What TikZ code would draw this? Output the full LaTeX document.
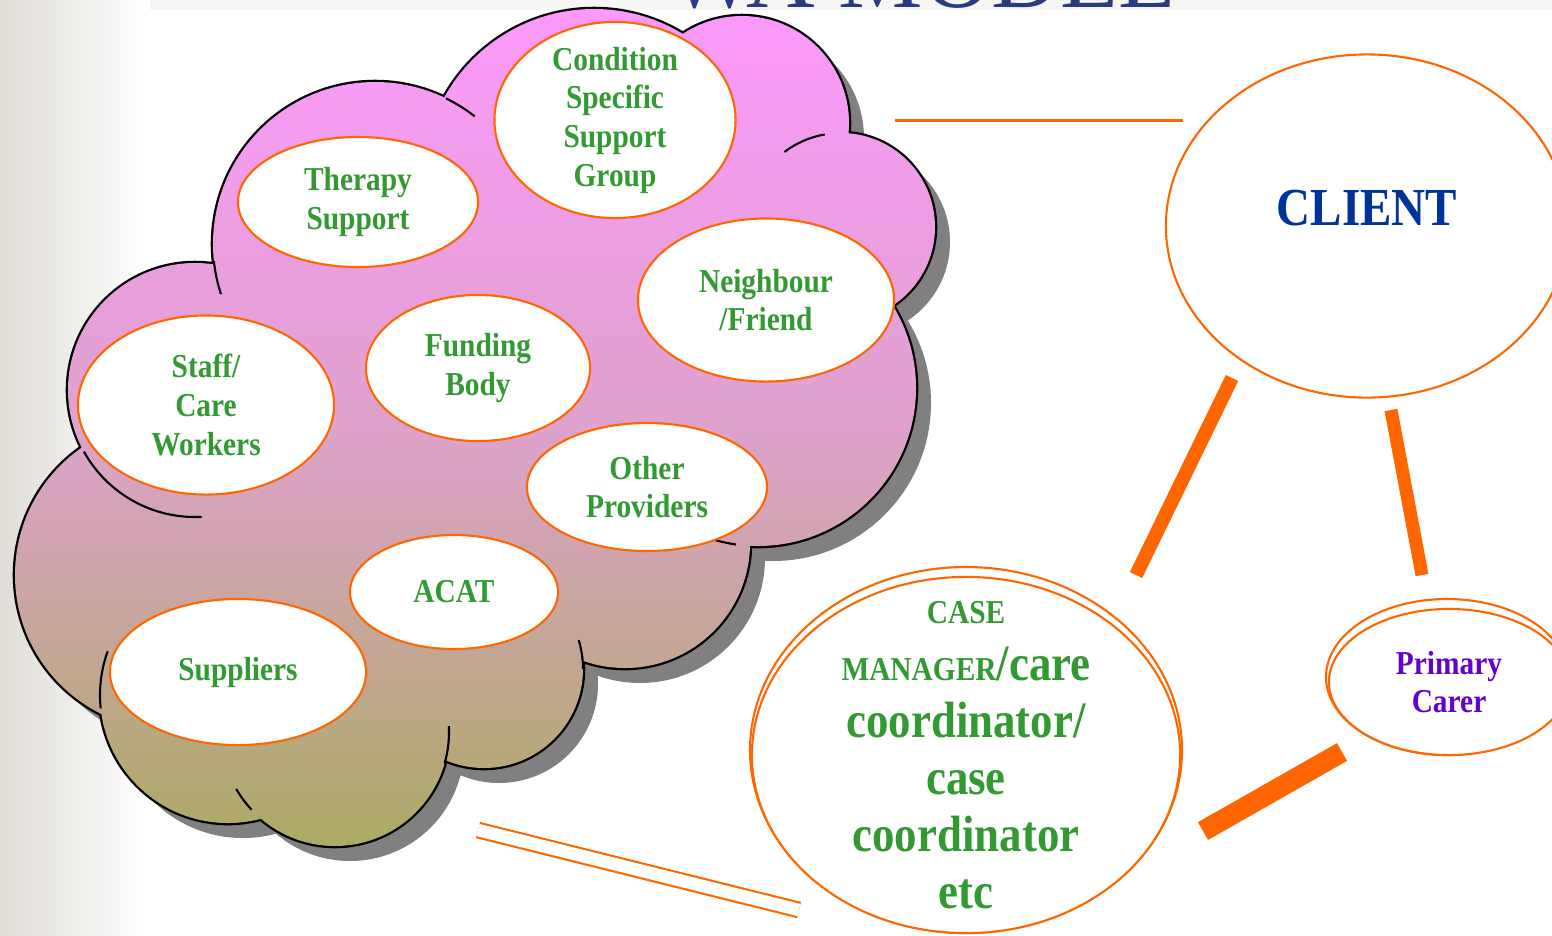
\documentclass[tikz,border=0pt]{standalone}
\usepackage{fontspec}
\setmainfont{Liberation Serif}
\newfontfamily\narrowserif{Liberation Serif}[FakeStretch=0.88]
\usetikzlibrary{shapes.geometric}

\definecolor{linkorange}{HTML}{FF6600}
\definecolor{labelgreen}{HTML}{339933}
\definecolor{clientblue}{HTML}{003399}
\definecolor{carerpurple}{HTML}{6600CC}
\definecolor{titleblue}{HTML}{2B3C7E}
\definecolor{slidegrey}{RGB}{224,221,215}
\definecolor{bandgrey}{RGB}{246,246,244}
\definecolor{cloudtop}{RGB}{252,153,252}
\definecolor{cloudmid}{RGB}{222,162,204}
\definecolor{cloudbottom}{RGB}{172,170,100}

\tikzset{
	bubble/.style = {ellipse, draw = linkorange, fill = white, line width = 0.6pt, inner sep = 0pt},
	bubbletext/.style = {align = center, text = labelgreen, inner sep = 0pt, font = \narrowserif\bfseries\fontsize{9.5}{11}\selectfont},
	casetext/.style = {align = center, text = labelgreen, inner sep = 0pt, font = \narrowserif\bfseries\fontsize{14.5}{16.2}\selectfont},
	carertext/.style = {bubbletext, text = carerpurple},
	clienttext/.style = {text = clientblue, inner sep = 0pt, font = \narrowserif\bfseries\fontsize{15.2}{18}\selectfont},
	link/.style = {draw = linkorange},
	cloudtick/.style = {line width = 0.6pt}
}

% centre x / centre y / radius of the cloud bumps (pixels, y downwards)
\newcommand{\cloudbumps}{375/244/162, 594/180/171, 742/123/107, 841/227/94, 758/388/158, 625/543/125, 484/669/99, 335/732/114, 228/695/128, 170/575/155, 195/390/127}
\newcommand{\smallcaps}[1]{{\fontsize{9.5}{11}\selectfont #1}}

\begin{document}
\begin{tikzpicture}[x = 0.01cm, y = 0.01cm]

	\useasboundingbox (0, 0) rectangle (1552, -935);
	\clip (0, 0) rectangle (1552, -935);
	
	% Slide background
	
	\shade [left color = slidegrey, right color = white] (0, 0) rectangle (150, -935);
	\fill [bandgrey] (150, 0) rectangle (1552, -10);
	\node [anchor = base, text = titleblue, inner sep = 0pt, font = \fontsize{27}{30}\selectfont] (title) at (922, -7) {WA MODEL};
	
	% The cloud: shadow, outline, then the gradient body
	
	\fill [gray, shift = {(15, -15)}] (195, -390) -- (170, -575) -- (228, -695) -- (335, -732) -- (484, -669) -- (625, -543) -- (758, -388) -- (841, -227) -- (742, -123) -- (594, -180) -- (375, -244) -- cycle
		foreach \cx/\cy/\cr in \cloudbumps {(\cx, -\cy) circle (\cr)};
	
	\draw [line width = 1.3pt] foreach \cx/\cy/\cr in \cloudbumps {(\cx, -\cy) circle (\cr)};
	
	\shade [top color = cloudtop, bottom color = cloudbottom, middle color = cloudmid] (195, -390) -- (170, -575) -- (228, -695) -- (335, -732) -- (484, -669) -- (625, -543) -- (758, -388) -- (841, -227) -- (742, -123) -- (594, -180) -- (375, -244) -- cycle
		foreach \cx/\cy/\cr in \cloudbumps {(\cx, -\cy) circle (\cr)};
	
	% Bump edges running on inside the cloud
	
	\foreach \cx/\cy/\cr/\sa/\ea in {375/244/162/64/52, 841/227/94/127/100, 375/244/162/186/198, 195/390/127/209/273, 758/388/158/248/262, 484/669/99/17/0, 335/732/114/3/-16, 228/695/128/160/186, 335/732/114/210/223}
		\draw [cloudtick] (\cx, -\cy) ++(\sa:\cr) arc [start angle = \sa, end angle = \ea, radius = \cr];
	
	% Supports inside the cloud
	
	\node [bubble, minimum width = 2.40cm, minimum height = 1.30cm] (therapy) at (358, -202) {};
	\node [bubbletext] (therapylabel) at (therapy.center) {Therapy\\Support};
	
	\node [bubble, minimum width = 2.41cm, minimum height = 1.96cm] (condition) at (615, -120) {};
	\node [bubbletext] (conditionlabel) at (condition.center) {Condition\\Specific\\Support\\Group};
	
	\node [bubble, minimum width = 2.56cm, minimum height = 1.63cm] (neighbour) at (766, -300) {};
	\node [bubbletext] (neighbourlabel) at (neighbour.center) {Neighbour\\/Friend};
	
	\node [bubble, minimum width = 2.24cm, minimum height = 1.46cm] (funding) at (478, -368) {};
	\node [bubbletext] (fundinglabel) at (funding.center) {Funding\\Body};
	
	\node [bubble, minimum width = 2.56cm, minimum height = 1.79cm] (staff) at (206, -405) {};
	\node [bubbletext] (stafflabel) at (staff.center) {Staff/\\Care\\Workers};
	
	\node [bubble, minimum width = 2.40cm, minimum height = 1.28cm] (other) at (647, -487) {};
	\node [bubbletext] (otherlabel) at (other.center) {Other\\Providers};
	
	\node [bubble, minimum width = 2.08cm, minimum height = 1.14cm] (acat) at (454, -592) {};
	\node [bubbletext] (acatlabel) at (acat.center) {ACAT};
	
	\node [bubble, minimum width = 2.56cm, minimum height = 1.46cm] (suppliers) at (238, -672) {};
	\node [bubbletext] (supplierslabel) at (suppliers.center) {Suppliers};
	
	% Client, case manager and carer
	
	\node [bubble, minimum width = 4.02cm, minimum height = 3.43cm] (client) at (1367, -226) {};
	\node [clienttext] (clientlabel) at ([yshift = 0.18cm] client.center) {CLIENT};
	
	\draw [link, fill = white, line width = 0.6pt] (966, -750) ellipse [x radius = 216, y radius = 183];
	\node [bubble, minimum width = 4.28cm, minimum height = 3.56cm] (casemgr) at (966, -755) {};
	\node [casetext] (casemgrlabel) at (casemgr.center) {\smallcaps{CASE}\\\smallcaps{MANAGER}/care\\coordinator/\\case\\coordinator\\etc};
	
	\draw [link, fill = white, line width = 0.6pt] (1447, -677) ellipse [x radius = 121, y radius = 78];
	\node [bubble, minimum width = 2.40cm, minimum height = 1.46cm] (carer) at (1449, -682) {};
	\node [carertext] (carerlabel) at (carer.center) {Primary\\Carer};
	
	% The links
	
	\coordinate (cloudend) at (895, -120);
	\coordinate (clientwest) at (1183, -120);
	\coordinate (clientsw) at (1232, -378);
	\coordinate (casene) at (1136, -575);
	\coordinate (clientse) at (1391, -410);
	\coordinate (carertop) at (1422, -575);
	\coordinate (casee) at (1203, -831);
	\coordinate (carerw) at (1342, -752);
	\coordinate (cloudfoot) at (478, -830);
	\coordinate (casew) at (799, -910);
	
	\draw [link, line width = 0.85pt] (cloudend) -- (clientwest);
	\draw [link, line width = 3.9pt] (clientsw) -- (casene);
	\draw [link, line width = 3.7pt] (clientse) -- (carertop);
	\draw [link, line width = 5.8pt] (casee) -- (carerw);
	\draw [link, double = white, double distance = 0.125cm, line width = 0.6pt] (cloudfoot) -- (casew);

\end{tikzpicture}
\end{document}
